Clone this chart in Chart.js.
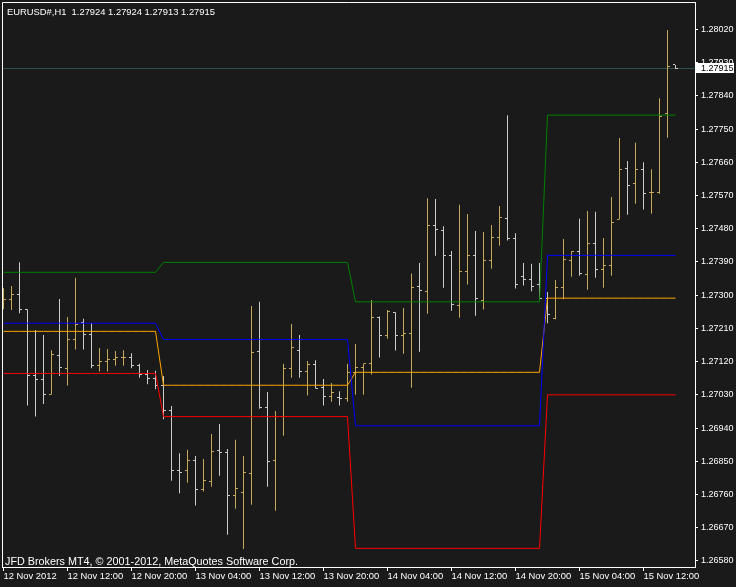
<!DOCTYPE html>
<html>
<head>
<meta charset="utf-8">
<script src="https://cdn.jsdelivr.net/npm/chart.js@4.4.1/dist/chart.umd.min.js"></script>
<style>
  html, body { margin: 0; padding: 0; background: #1a1a1a; overflow: hidden; }
</style>
</head>
<body>
<canvas id="eurusdChart" width="736" height="587"></canvas>
<script>
const symbolTitle = "EURUSD#,H1  1.27924 1.27924 1.27913 1.27915";
const copyrightText = "JFD Brokers MT4, \u00A9 2001-2012, MetaQuotes Software Corp.";
const bidPrice = 1.27915;

const timeLabels = ["12 Nov 2012", "12 Nov 12:00", "12 Nov 20:00", "13 Nov 04:00", "13 Nov 12:00",
  "13 Nov 20:00", "14 Nov 04:00", "14 Nov 12:00", "14 Nov 20:00", "15 Nov 04:00", "15 Nov 12:00"];
const timeLabelBars = [0, 8, 16, 24, 32, 40, 48, 56, 64, 72, 80];
const priceTicks = [1.26580, 1.26670, 1.26760, 1.26850, 1.26940, 1.27030, 1.27120, 1.27210, 1.27300,
  1.27390, 1.27480, 1.27570, 1.27660, 1.27750, 1.27840, 1.27930, 1.28020];

// H1 bars, one value per bar
const opens = [
  1.27273,1.27289,1.27303,1.27262,1.27083,1.27072,1.27031,1.27137,1.27102,1.27179,
  1.27225,1.27194,1.27110,1.27121,1.27127,1.27130,1.27130,1.27110,1.27086,1.27075,
  1.27056,1.26988,1.26826,1.26826,1.26853,1.26774,1.26796,1.26880,1.26874,1.26758,
  1.26766,1.26817,1.27148,1.26996,1.26853,1.26972,1.27102,1.27151,1.27094,1.27113,
  1.27050,1.27026,1.27023,1.27021,1.27091,1.27105,1.27114,1.27240,1.27191,1.27254,
  1.27191,1.27197,1.27324,1.27311,1.27489,1.27476,1.27408,1.27273,1.27365,1.27408,
  1.27286,1.27395,1.27457,1.27508,1.27454,1.27351,1.27343,1.27330,1.27292,1.27237,
  1.27321,1.27395,1.27419,1.27357,1.27441,1.27370,1.27381,1.27506,1.27644,1.27603,
  1.27641,1.27579,1.27579,1.27793,1.27924
];
const highs = [
  1.27319,1.27325,1.27389,1.27262,1.27206,1.27192,1.27151,1.27290,1.27241,1.27347,
  1.27236,1.27225,1.27157,1.27154,1.27149,1.27151,1.27143,1.27114,1.27097,1.27095,
  1.27081,1.27000,1.26872,1.26881,1.26864,1.26856,1.26924,1.26951,1.26883,1.26908,
  1.26864,1.27271,1.27282,1.27038,1.26986,1.27114,1.27222,1.27192,1.27122,1.27124,
  1.27073,1.27062,1.27040,1.27114,1.27168,1.27115,1.27287,1.27242,1.27260,1.27254,
  1.27265,1.27359,1.27387,1.27563,1.27561,1.27487,1.27420,1.27545,1.27520,1.27474,
  1.27471,1.27490,1.27542,1.27788,1.27468,1.27387,1.27385,1.27387,1.27309,1.27341,
  1.27452,1.27419,1.27507,1.27528,1.27526,1.27455,1.27566,1.27726,1.27664,1.27713,
  1.27660,1.27641,1.27834,1.28019,1.27924
];
const lows = [
  1.27262,1.27260,1.27251,1.27001,1.26971,1.27005,1.27031,1.27081,1.27055,1.27153,
  1.27153,1.27102,1.27093,1.27093,1.27109,1.27109,1.27102,1.27076,1.27059,1.27045,
  1.26964,1.26797,1.26763,1.26792,1.26730,1.26768,1.26781,1.26811,1.26651,1.26721,
  1.26612,1.26732,1.26992,1.26781,1.26716,1.26919,1.27076,1.27076,1.27028,1.27047,
  1.27001,1.27011,1.27001,1.27011,1.27030,1.27030,1.27085,1.27131,1.27182,1.27150,
  1.27141,1.27049,1.27147,1.27250,1.27407,1.27320,1.27258,1.27239,1.27329,1.27244,
  1.27261,1.27372,1.27434,1.27448,1.27318,1.27326,1.27311,1.27288,1.27224,1.27235,
  1.27289,1.27350,1.27353,1.27315,1.27347,1.27320,1.27353,1.27505,1.27518,1.27548,
  1.27532,1.27521,1.27575,1.27727,1.27913
];
const closes = [
  1.27287,1.27303,1.27262,1.27083,1.27072,1.27031,1.27140,1.27105,1.27179,1.27221,
  1.27194,1.27110,1.27121,1.27127,1.27130,1.27130,1.27110,1.27086,1.27075,1.27056,
  1.26988,1.26826,1.26820,1.26853,1.26774,1.26798,1.26877,1.26874,1.26758,1.26777,
  1.26820,1.27145,1.26996,1.26850,1.26972,1.27102,1.27159,1.27094,1.27113,1.27048,
  1.27026,1.27037,1.27021,1.27091,1.27105,1.27114,1.27240,1.27191,1.27255,1.27192,
  1.27197,1.27321,1.27312,1.27489,1.27479,1.27408,1.27275,1.27365,1.27408,1.27292,
  1.27395,1.27457,1.27511,1.27454,1.27330,1.27343,1.27324,1.27292,1.27248,1.27321,
  1.27397,1.27419,1.27359,1.27441,1.27370,1.27381,1.27498,1.27641,1.27598,1.27641,
  1.27576,1.27579,1.27785,1.27920,1.27915
];

// daily level lines (one row per day)
const greenLevel = [
  1.27362,1.27362,1.27362,1.27362,1.27362,1.27362,1.27362,1.27362,1.27362,1.27362,1.27362,1.27362,1.27362,1.27362,1.27362,1.27362,1.27362,1.27362,1.27362,1.27362,
  1.27389,1.27389,1.27389,1.27389,1.27389,1.27389,1.27389,1.27389,1.27389,1.27389,1.27389,1.27389,1.27389,1.27389,1.27389,1.27389,1.27389,1.27389,1.27389,1.27389,1.27389,1.27389,1.27389,1.27389,
  1.27282,1.27282,1.27282,1.27282,1.27282,1.27282,1.27282,1.27282,1.27282,1.27282,1.27282,1.27282,1.27282,1.27282,1.27282,1.27282,1.27282,1.27282,1.27282,1.27282,1.27282,1.27282,1.27282,1.27282,
  1.27788,1.27788,1.27788,1.27788,1.27788,1.27788,1.27788,1.27788,1.27788,1.27788,1.27788,1.27788,1.27788,1.27788,1.27788,1.27788,1.27788
];
const blueLevel = [
  1.27224,1.27224,1.27224,1.27224,1.27224,1.27224,1.27224,1.27224,1.27224,1.27224,1.27224,1.27224,1.27224,1.27224,1.27224,1.27224,1.27224,1.27224,1.27224,1.27224,
  1.27180,1.27180,1.27180,1.27180,1.27180,1.27180,1.27180,1.27180,1.27180,1.27180,1.27180,1.27180,1.27180,1.27180,1.27180,1.27180,1.27180,1.27180,1.27180,1.27180,1.27180,1.27180,1.27180,1.27180,
  1.26946,1.26946,1.26946,1.26946,1.26946,1.26946,1.26946,1.26946,1.26946,1.26946,1.26946,1.26946,1.26946,1.26946,1.26946,1.26946,1.26946,1.26946,1.26946,1.26946,1.26946,1.26946,1.26946,1.26946,
  1.27408,1.27408,1.27408,1.27408,1.27408,1.27408,1.27408,1.27408,1.27408,1.27408,1.27408,1.27408,1.27408,1.27408,1.27408,1.27408,1.27408
];
const orangeLevel = [
  1.27202,1.27202,1.27202,1.27202,1.27202,1.27202,1.27202,1.27202,1.27202,1.27202,1.27202,1.27202,1.27202,1.27202,1.27202,1.27202,1.27202,1.27202,1.27202,1.27202,
  1.27056,1.27056,1.27056,1.27056,1.27056,1.27056,1.27056,1.27056,1.27056,1.27056,1.27056,1.27056,1.27056,1.27056,1.27056,1.27056,1.27056,1.27056,1.27056,1.27056,1.27056,1.27056,1.27056,1.27056,
  1.27091,1.27091,1.27091,1.27091,1.27091,1.27091,1.27091,1.27091,1.27091,1.27091,1.27091,1.27091,1.27091,1.27091,1.27091,1.27091,1.27091,1.27091,1.27091,1.27091,1.27091,1.27091,1.27091,1.27091,
  1.27292,1.27292,1.27292,1.27292,1.27292,1.27292,1.27292,1.27292,1.27292,1.27292,1.27292,1.27292,1.27292,1.27292,1.27292,1.27292,1.27292
];
const redLevel = [
  1.27088,1.27088,1.27088,1.27088,1.27088,1.27088,1.27088,1.27088,1.27088,1.27088,1.27088,1.27088,1.27088,1.27088,1.27088,1.27088,1.27088,1.27088,1.27088,1.27088,
  1.26971,1.26971,1.26971,1.26971,1.26971,1.26971,1.26971,1.26971,1.26971,1.26971,1.26971,1.26971,1.26971,1.26971,1.26971,1.26971,1.26971,1.26971,1.26971,1.26971,1.26971,1.26971,1.26971,1.26971,
  1.26614,1.26614,1.26614,1.26614,1.26614,1.26614,1.26614,1.26614,1.26614,1.26614,1.26614,1.26614,1.26614,1.26614,1.26614,1.26614,1.26614,1.26614,1.26614,1.26614,1.26614,1.26614,1.26614,1.26614,
  1.27030,1.27030,1.27030,1.27030,1.27030,1.27030,1.27030,1.27030,1.27030,1.27030,1.27030,1.27030,1.27030,1.27030,1.27030,1.27030,1.27030
];

const bgColor = "#1a1a1a";
const upColor = "#c4a95c";
const downColor = "#cccccc";
const fontFamily = '"Liberation Sans", Arial, sans-serif';

function isUp(i) { return closes[i] >= opens[i]; }

// little open/close tick stamps used as point styles
function tickStamp(color, side) {
  const c = document.createElement("canvas");
  c.width = 5; c.height = 1;
  const g = c.getContext("2d");
  g.fillStyle = color;
  g.fillRect(side === "left" ? 0 : 3, 0, 2, 1);
  return c;
}
const openUp = tickStamp(upColor, "left"), openDown = tickStamp(downColor, "left");
const closeUp = tickStamp(upColor, "right"), closeDown = tickStamp(downColor, "right");

function levelSet(label, values, color) {
  return {
    type: "line",
    label: label,
    data: values.map((v, i) => ({ x: i, y: v })),
    borderColor: color,
    borderWidth: 1,
    pointRadius: 0,
    tension: 0,
    fill: false,
    order: 0,
  };
}

const mt4Decor = {
  id: "mt4Decor",
  beforeDraw(chart) {
    const ctx = chart.ctx;
    ctx.save();
    ctx.fillStyle = bgColor;
    ctx.fillRect(0, 0, chart.width, chart.height);
    ctx.restore();
  },
  beforeDatasetsDraw(chart) {
    const { ctx, chartArea: a } = chart;
    const by = Math.round(chart.scales.y.getPixelForValue(bidPrice)) + 0.5;
    ctx.save();
    ctx.strokeStyle = "#2f4f4f";
    ctx.lineWidth = 1;
    ctx.beginPath();
    ctx.moveTo(a.left, by);
    ctx.lineTo(a.right, by);
    ctx.stroke();
    ctx.restore();
  },
  afterDraw(chart) {
    const { ctx, chartArea: a } = chart;
    ctx.save();
    // frame left + top
    ctx.strokeStyle = "#ffffff";
    ctx.lineWidth = 1;
    ctx.beginPath();
    ctx.moveTo(a.left + 0.5, a.bottom);
    ctx.lineTo(a.left + 0.5, a.top + 0.5);
    ctx.lineTo(a.right, a.top + 0.5);
    ctx.stroke();

    ctx.fillStyle = "#ffffff";
    ctx.textBaseline = "alphabetic";
    ctx.textAlign = "left";
    ctx.font = "9.4px " + fontFamily;
    ctx.fillText(symbolTitle, 7, 15);
    ctx.font = "10.8px " + fontFamily;
    ctx.fillText(copyrightText, 5, 565);

    // bid price box
    const by = Math.round(chart.scales.y.getPixelForValue(bidPrice));
    ctx.fillStyle = "#ffffff";
    ctx.fillRect(a.right, by - 5, 39, 10);
    ctx.fillStyle = "#000000";
    ctx.font = "9px " + fontFamily;
    ctx.textBaseline = "middle";
    ctx.fillText(bidPrice.toFixed(5), a.right + 6, by + 0.5);
    ctx.restore();
  }
};

new Chart(document.getElementById("eurusdChart"), {
  type: "bar",
  data: {
    datasets: [
      levelSet("High", greenLevel, "#008000"),
      levelSet("Mid", blueLevel, "#0000ff"),
      levelSet("Close", orangeLevel, "#ffa500"),
      levelSet("Low", redLevel, "#ff0000"),
      {
        type: "line",
        label: "Open",
        data: opens.map((v, i) => ({ x: i, y: v })),
        showLine: false,
        pointRadius: 3,
        pointStyle: ctx => isUp(ctx.dataIndex) ? openUp : openDown,
        order: 1,
      },
      {
        type: "line",
        label: "Close",
        data: closes.map((v, i) => ({ x: i, y: v })),
        showLine: false,
        pointRadius: 3,
        pointStyle: ctx => isUp(ctx.dataIndex) ? closeUp : closeDown,
        order: 1,
      },
      {
        type: "bar",
        label: "Range",
        data: highs.map((h, i) => ({ x: i, y: [lows[i], h] })),
        backgroundColor: ctx => isUp(ctx.dataIndex) ? upColor : downColor,
        borderWidth: 0,
        barThickness: 1,
        inflateAmount: 0,
        grouped: false,
        order: 2,
      },
    ]
  },
  options: {
    responsive: false,
    animation: false,
    devicePixelRatio: 1,
    events: [],
    layout: { autoPadding: false, padding: { left: 2, top: 2, right: 0, bottom: 0 } },
    plugins: { legend: { display: false }, tooltip: { enabled: false } },
    scales: {
      x: {
        type: "linear",
        offset: false,
        min: -0.1875,
        max: 86.4375,
        afterBuildTicks: s => { s.ticks = timeLabelBars.map(b => ({ value: b })); },
        afterFit: s => { s.height = 20; s.paddingLeft = 0; s.paddingRight = 0; },
        grid: { drawOnChartArea: false, drawTicks: true, tickLength: 4, color: "#ffffff", offset: false },
        border: { display: true, color: "#ffffff" },
        ticks: {
          color: "#ffffff",
          align: "start",
          maxRotation: 0,
          autoSkip: false,
          padding: 0,
          font: { family: fontFamily, size: 9.4 },
          callback: (v, i) => timeLabels[i],
        }
      },
      y: {
        position: "right",
        min: 1.265634,
        max: 1.280946,
        afterBuildTicks: s => { s.ticks = priceTicks.map(v => ({ value: v })); },
        afterFit: s => { s.width = 41; s.paddingTop = 0; s.paddingBottom = 0; },
        grid: { drawOnChartArea: false, drawTicks: true, tickLength: 3, color: "#ffffff" },
        border: { display: true, color: "#ffffff" },
        ticks: {
          color: "#ffffff",
          padding: 3,
          autoSkip: false,
          font: { family: fontFamily, size: 9 },
          callback: v => v.toFixed(5),
        }
      }
    }
  },
  plugins: [mt4Decor]
});
</script>
</body>
</html>
